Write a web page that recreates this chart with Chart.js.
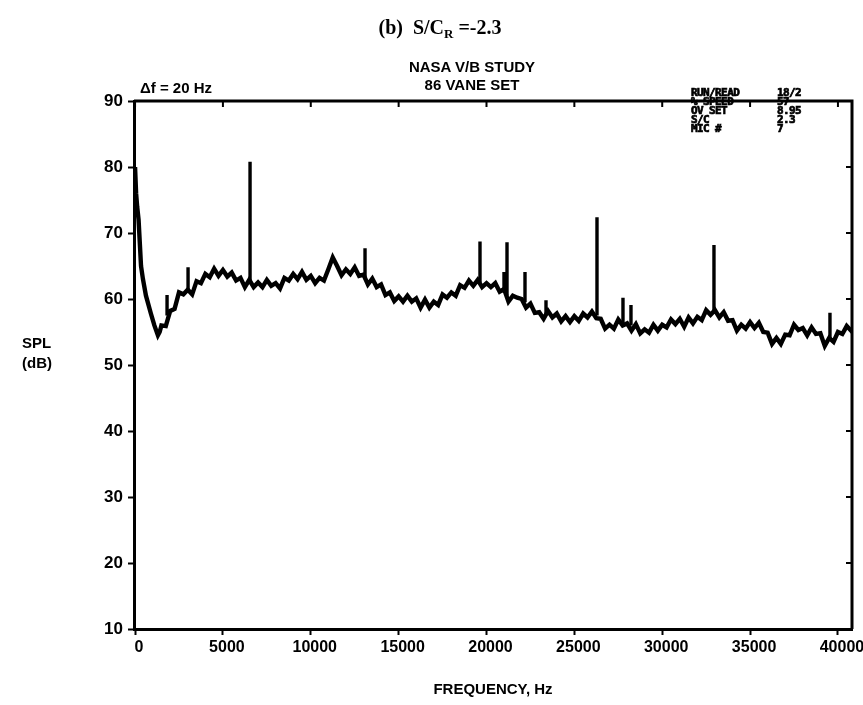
<!DOCTYPE html>
<html>
<head>
<meta charset="utf-8">
<script src="https://cdn.jsdelivr.net/npm/chart.js@4.4.0/dist/chart.umd.min.js"></script>
<style>
  html, body { margin: 0; padding: 0; background: #fff; }
  #wrap { position: relative; width: 863px; height: 705px; overflow: hidden; }
  #c { position: absolute; left: 0; top: 0; }
  .t { position: absolute; color: #000; white-space: nowrap; }
  #title { left: 0; width: 880px; top: 16px; text-align: center; font: bold 20px "Liberation Serif", serif; }
  #title sub { font-size: 13px; vertical-align: -4px; }
  #sub { left: 0; width: 944px; top: 58px; text-align: center; font: bold 15px "Liberation Sans", Arial, sans-serif; line-height: 18px; }
  #df { left: 140px; top: 79px; font: bold 15px "Liberation Sans", Arial, sans-serif; }
  #info { left: 691px; top: 88px; font: bold 11px "DejaVu Sans Mono", monospace; line-height: 9px; -webkit-text-stroke: 0.7px #000; letter-spacing: -0.6px; }
  #info span { display: inline-block; width: 86px; }
  #spl { left: 22px; top: 333px; font: bold 15px "Liberation Sans", Arial, sans-serif; line-height: 20px; }
</style>
</head>
<body>
<div id="wrap">
  <canvas id="c" width="863" height="705"></canvas>
  <div class="t" id="title">(b)&nbsp; S/C<sub>R</sub> =-2.3</div>
  <div class="t" id="sub">NASA V/B STUDY<br>86 VANE SET</div>
  <div class="t" id="df">&Delta;f = 20 Hz</div>
  <div class="t" id="info"><span>RUN/READ</span>18/2<br><span>% SPEED</span>57<br><span>OV SET</span>8.95<br><span>S/C</span>2.3<br><span>MIC #</span>7</div>
  <div class="t" id="spl">SPL<br>(dB)</div>
</div>
<script>
// ---- data ----
const lowHz = [0, 60, 120, 200, 280, 340, 450, 620, 900, 1100, 1300, 1400];
const lowDb = [80, 76, 74, 72, 68, 65, 63, 60.5, 57.8, 56, 54.5, 55];

const bandStartHz = 1500;
const bandStepHz = 250;
const bandDb = [
  56.0, 55.9, 58.2, 58.5, 61.0, 60.7, 61.4, 60.7, 62.7, 62.4,   // 1500-3750
  63.8, 63.3, 64.6, 63.5, 64.4, 63.4, 64.0, 62.8, 63.2, 61.8,   // 4000-6250
  62.9, 61.8, 62.5, 61.8, 62.9, 62.0, 62.4, 61.6, 63.2, 62.8,   // 6500-8750
  63.8, 63.0, 64.1, 62.9, 63.5, 62.4, 63.2, 62.8, 64.5, 66.3,   // 9000-11250
  65.0, 63.6, 64.5, 63.8, 64.8, 63.5, 63.7, 62.2, 63.1, 61.8,   // 11500-13750
  62.2, 60.6, 61.0, 59.7, 60.4, 59.6, 60.5, 59.6, 60.1, 58.7,   // 14000-16250
  59.9, 58.7, 59.6, 59.1, 60.7, 60.2, 61.0, 60.5, 62.1, 61.7,   // 16500-18750
  62.8, 62.0, 62.9, 61.8, 62.4, 61.8, 62.4, 61.1, 61.5, 59.6,   // 19000-21250
  60.5, 60.2, 60.0, 58.7, 59.3, 57.9, 58.0, 57.0, 58.2, 57.2,   // 21500-23750
  57.8, 56.6, 57.4, 56.5, 57.4, 56.7, 57.8, 57.2, 58.1, 57.1,   // 24000-26250
  57.0, 55.5, 56.1, 55.5, 56.9, 56.0, 56.3, 55.2, 56.2, 54.8,   // 26500-28750
  55.4, 54.9, 56.1, 55.2, 56.1, 55.7, 56.9, 56.2, 57.0, 55.8,   // 29000-31250
  57.2, 56.3, 57.3, 56.8, 58.3, 57.6, 58.3, 57.2, 58.0, 56.7,   // 31500-33750
  56.8, 55.2, 56.1, 55.5, 56.5, 55.6, 56.4, 55.0, 54.9, 53.2,   // 34000-36250
  54.1, 53.2, 54.6, 54.5, 56.1, 55.3, 55.6, 54.5, 55.7, 54.7,   // 36500-38750
  54.8, 52.9, 54.1, 53.5, 55.0, 54.7, 55.9, 55.2, 56.0          // 39000-41000
];

const tonesHz    = [1821, 3016, 6544, 13087, 19630, 20996, 21167, 22191, 23386, 26288, 27767, 28222, 32945, 39546];
const tonesTopDb = [60.6, 64.8, 80.8, 67.7, 68.7, 64.1, 68.6, 64.1, 59.8, 72.4, 60.2, 59.1, 68.2, 57.9];
const tonesBaseDb= [57.5, 61.0, 62.5, 63.0, 62.5, 61.0, 60.5, 59.5, 57.7, 57.5, 56.2, 56.0, 58.0, 53.8];

const xTickStep = 5000;
const yTickStep = 10;

// ---- build datasets ----
const spectrum = [];
lowHz.forEach((f, i) => spectrum.push({x: f, y: lowDb[i]}));
bandDb.forEach((v, i) => spectrum.push({x: bandStartHz + i * bandStepHz, y: v}));

const tones = [];
tonesHz.forEach((f, i) => {
  tones.push({x: f, y: tonesBaseDb[i]});
  tones.push({x: f, y: tonesTopDb[i]});
  tones.push({x: f, y: null});
});

const FONT = '"Liberation Sans", Arial, sans-serif';

const framePlugin = {
  id: 'frame',
  afterDraw(chart) {
    const {ctx, chartArea: a, scales: {x, y}} = chart;
    ctx.save();
    ctx.strokeStyle = '#000';
    ctx.lineWidth = 3;
    ctx.beginPath();
    ctx.moveTo(a.left, a.top);
    ctx.lineTo(a.right, a.top);
    ctx.lineTo(a.right, a.bottom);
    ctx.stroke();
    ctx.lineWidth = 2;
    ctx.beginPath();
    y.ticks.forEach(t => {
      const py = y.getPixelForValue(t.value);
      ctx.moveTo(a.right, py); ctx.lineTo(a.right - 6, py);
    });
    x.ticks.forEach(t => {
      const px = x.getPixelForValue(t.value);
      ctx.moveTo(px, a.top); ctx.lineTo(px, a.top + 6);
    });
    ctx.stroke();
    ctx.restore();
  }
};

new Chart(document.getElementById('c'), {
  type: 'line',
  data: {
    datasets: [
      { data: spectrum, borderColor: '#000', borderWidth: 4.4, pointRadius: 0, tension: 0, borderJoinStyle: 'miter' },
      { data: tones, borderColor: '#000', borderWidth: 3.4, pointRadius: 0, spanGaps: false }
    ]
  },
  options: {
    responsive: false,
    animation: false,
    events: [],
    layout: { padding: { top: 101, right: 11, bottom: 2, left: 0 } },
    plugins: { legend: { display: false }, tooltip: { enabled: false }, title: { display: false } },
    scales: {
      x: {
        type: 'linear',
        min: -60, max: 40800,
        afterBuildTicks(scale) {
          const t = [];
          for (let v = 0; v <= scale.max; v += xTickStep) t.push({ value: v });
          scale.ticks = t;
        },
        afterFit(scale) { scale.height = 74; scale.paddingLeft = 0; scale.paddingRight = 0; },
        ticks: { callback: v => String(v), color: '#000', font: { family: FONT, size: 16, weight: 'bold' }, maxRotation: 0, autoSkip: false, padding: 3, labelOffset: 4 },
        grid: { drawOnChartArea: false, color: '#000', tickLength: 6, tickWidth: 2 },
        border: { display: true, color: '#000', width: 3 },
        title: { display: true, text: 'FREQUENCY, Hz', color: '#000', font: { family: FONT, size: 15, weight: 'bold' }, padding: { top: 0, bottom: 4 } }
      },
      y: {
        min: 10, max: 90,
        afterFit(scale) { scale.width = 134; scale.paddingTop = 0; scale.paddingBottom = 0; },
        ticks: { stepSize: yTickStep, color: '#000', font: { family: FONT, size: 17, weight: 'bold' }, padding: 5 },
        grid: { drawOnChartArea: false, color: '#000', tickLength: 6, tickWidth: 2 },
        border: { display: true, color: '#000', width: 3 }
      }
    }
  },
  plugins: [framePlugin]
});
</script>
</body>
</html>
